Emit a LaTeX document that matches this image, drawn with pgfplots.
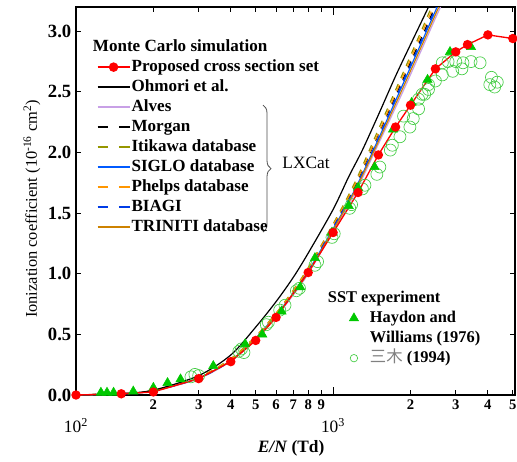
\documentclass[border=0pt]{standalone}
\usepackage{fontspec}
\setmainfont{Liberation Serif}
\newfontfamily\cjk{Noto Sans CJK JP}
\usepackage{pgfplots}
\pgfplotsset{compat=1.18}
\usepackage{pgfplotstable}
\usetikzlibrary{decorations.pathreplacing}

\definecolor{alves}{RGB}{200,160,230}
\definecolor{itikawa}{RGB}{150,150,0}
\definecolor{siglo}{RGB}{0,90,255}
\definecolor{phelps}{RGB}{255,150,0}
\definecolor{biagi}{RGB}{0,60,230}
\definecolor{triniti}{RGB}{205,130,0}
\definecolor{hwgreen}{RGB}{0,200,0}
\definecolor{mikigreen}{RGB}{70,205,70}

\pgfplotstableread{
E y
100 0
150 0.01
200 0.025
300 0.135
400 0.275
500 0.45
600 0.64
800 1.01
1000 1.34
1250 1.67
1500 1.98
1750 2.21
2000 2.39
2500 2.69
3000 2.83
3333 2.89
4000 2.97
5000 2.94
}\proposed

\pgfplotstableread{
E y
100 0
150 0.012
200 0.04
300 0.16
400 0.33
500 0.56
600 0.77
700 0.97
800 1.17
1000 1.53
1150 1.80
1300 2.02
1500 2.31
1750 2.63
2000 2.89
2350 3.20
2600 3.40
}\ohmori

\pgfplotstableread{
E y
100 0
150 0.01
200 0.033
300 0.135
400 0.28
500 0.46
600 0.645
700 0.825
800 1.00
1000 1.35
1220 1.67
1500 2.07
1830 2.46
2200 2.84
2540 3.14
2800 3.33
}\alves

\pgfplotstableread{
E y
100 0
150 0.011
200 0.036
300 0.143
400 0.29
500 0.475
600 0.665
700 0.85
800 1.03
1000 1.39
1220 1.73
1500 2.15
1830 2.56
2200 2.94
2540 3.24
2800 3.42
}\morgan

\pgfplotstableread{
E y
100 0
150 0.012
200 0.038
300 0.148
400 0.30
500 0.485
600 0.675
700 0.865
800 1.05
1000 1.41
1220 1.76
1500 2.19
1830 2.61
2200 3.00
2540 3.31
}\itikawa

\pgfplotstableread{
E y
100 0
150 0.01
200 0.035
300 0.14
400 0.285
500 0.47
600 0.66
700 0.84
800 1.02
1000 1.37
1220 1.70
1500 2.11
1830 2.52
2200 2.90
2540 3.20
2800 3.40
}\siglo

\pgfplotstableread{
E y
100 0
150 0.011
200 0.037
300 0.146
400 0.295
500 0.48
600 0.67
700 0.86
800 1.04
1000 1.40
1220 1.74
1500 2.16
1830 2.58
2200 2.97
2540 3.27
2800 3.45
}\phelps

\pgfplotstableread{
E y
100 0
150 0.01
200 0.034
300 0.138
400 0.282
500 0.465
600 0.655
700 0.835
800 1.02
1000 1.38
1220 1.71
1500 2.12
1830 2.54
2200 2.92
2540 3.22
2800 3.41
}\biagi

\pgfplotstableread{
E y
100 0
150 0.01
200 0.034
300 0.14
400 0.285
500 0.468
600 0.655
700 0.835
800 1.01
1000 1.36
1220 1.69
1500 2.09
1830 2.49
2200 2.87
2540 3.17
2800 3.36
}\triniti

\pgfplotstableread{
E y
125 0.02
132 0.02
140 0.02
167 0.03
200 0.06
227 0.10
255 0.13
342 0.24
455 0.42
530 0.50
630 0.69
745 0.89
850 1.13
990 1.34
1150 1.56
1250 1.71
1450 1.88
1710 2.19
2020 2.41
2330 2.60
2850 2.83
3440 2.87
}\hw

\pgfplotstableread{
E y
280 0.15
290 0.17
300 0.16
430 0.36
440 0.38
450 0.35
550 0.58
560 0.60
620 0.70
650 0.74
720 0.86
740 0.88
850 1.07
870 1.10
990 1.30
1010 1.33
1160 1.54
1180 1.57
1300 1.70
1330 1.73
1480 1.82
1520 1.88
1670 2.02
1700 2.06
1820 2.13
1880 2.30
1990 2.21
2050 2.28
2150 2.36
2150 2.44
2220 2.48
2270 2.48
2350 2.52
2350 2.56
2500 2.59
2660 2.64
2660 2.74
2800 2.75
2920 2.67
3000 2.75
3170 2.69
3200 2.74
3440 2.75
3730 2.74
4070 2.56
4130 2.62
4250 2.54
4350 2.58
}\miki

\begin{document}
\begin{tikzpicture}
\begin{axis}[
  at={(0,0)}, anchor=south west,
  scale only axis, width=329.25pt, height=291pt,
  xmode=log, xmin=100, xmax=5100, ymin=0, ymax=3.2,
  axis line style={line width=0.8pt},
  tick align=inside, major tick length=4pt,
  tick style={line width=0.7pt, black},
  xtick={200,300,400,500,600,700,800,900,2000,3000,4000,5000},
  xticklabels={2,3,4,5,6,7,8,9,2,3,4,5},
  minor xtick={},
  xticklabel style={font=\fontsize{11}{11}\selectfont\bfseries},
  extra x ticks={100,1000},
  extra x tick labels={10\textsuperscript{2},10\textsuperscript{3}},
  extra x tick style={major tick length=6pt, xticklabel style={font=\fontsize{13}{13}\selectfont\mdseries, yshift=-14pt}},
  ytick={0,0.5,1,1.5,2,2.5,3},
  yticklabel style={/pgf/number format/fixed, /pgf/number format/fixed zerofill, /pgf/number format/precision=1, /pgf/number format/assume math mode=true, font=\fontsize{14}{14}\selectfont\bfseries},
  xlabel={\textbf{\textit{E/N}} \textbf{(Td)}},
  ylabel={Ionization coefficient (10\textsuperscript{-16} cm\textsuperscript{2})},
  every axis x label/.style={at={(axis description cs:0.49,0)}, anchor=center, yshift=-40pt, font=\fontsize{13}{13}\selectfont},
  every axis y label/.style={at={(axis description cs:-0.1002,0.48)}, rotate=90, anchor=center, font=\fontsize{12.3}{12.3}\selectfont},
  legend image code/.code={\draw[mark repeat=2,mark phase=2,#1] plot coordinates {(0cm,0cm) (0.42cm,0cm) (0.84cm,0cm)};},
  legend cell align=left,
  legend style={at={(axis description cs:0.047,0.923)}, anchor=north west, draw=none, fill=none, inner sep=0pt,
    font=\fontsize{12.8}{15}\selectfont\bfseries,
    nodes={inner sep=1pt, text height=10pt, text depth=3pt},
    /tikz/every even column/.append style={column sep=3pt}},
]
\addplot[forget plot, only marks, mark=o, mark size=4.5pt, mikigreen, mark options={line width=0.5pt}] table {\miki};
\addplot[forget plot, only marks, mark=triangle*, mark size=4pt, hwgreen] table {\hw};
\addplot[forget plot, alves, line width=0.9pt, smooth] table {\alves};
\addplot[forget plot, black, line width=0.9pt, smooth, dash pattern=on 5pt off 5pt] table {\morgan};
\addplot[forget plot, itikawa, line width=0.9pt, smooth, dash pattern=on 5pt off 5pt] table {\itikawa};
\addplot[forget plot, siglo, line width=0.9pt, smooth] table {\siglo};
\addplot[forget plot, phelps, line width=0.9pt, smooth, dash pattern=on 5pt off 5pt] table {\phelps};
\addplot[forget plot, biagi, line width=0.9pt, smooth, dash pattern=on 5pt off 5pt] table {\biagi};
\addplot[forget plot, triniti, line width=0.9pt, smooth] table {\triniti};
\addplot[forget plot, black, line width=0.9pt, smooth] table {\ohmori};
\addplot[forget plot, red, line width=1pt, mark=*, mark size=3pt, mark options={fill=red}] table {\proposed};

\addlegendimage{empty legend}
\addlegendentry{\hspace{-29pt}Monte Carlo simulation}
\addlegendimage{draw=red, line width=1.1pt, mark=*, mark size=3pt, mark options={fill=red, draw=red}}
\addlegendentry{Proposed cross section set}
\addlegendimage{draw=black, line width=1.1pt}
\addlegendentry{Ohmori et al.}
\addlegendimage{draw=alves, line width=1.1pt}
\addlegendentry{Alves}
\addlegendimage{draw=black, line width=1.1pt, dash pattern=on 8pt off 8pt}
\addlegendentry{Morgan}
\addlegendimage{draw=itikawa, line width=1.1pt, dash pattern=on 8pt off 8pt}
\addlegendentry{Itikawa database}
\addlegendimage{draw=siglo, line width=1.1pt}
\addlegendentry{SIGLO database}
\addlegendimage{draw=phelps, line width=1.1pt, dash pattern=on 8pt off 8pt}
\addlegendentry{Phelps database}
\addlegendimage{draw=biagi, line width=1.1pt, dash pattern=on 8pt off 8pt}
\addlegendentry{BIAGI}
\addlegendimage{draw=triniti, line width=1.1pt}
\addlegendentry{TRINITI database}

\draw[decorate, decoration={brace, amplitude=6pt}, line width=0.6pt, black!70]
  (rel axis cs:0.426,0.747) -- (rel axis cs:0.426,0.42);
\node[font=\fontsize{13}{13}\selectfont, anchor=center] at (rel axis cs:0.524,0.598) {LXCat};
\end{axis}

\begin{axis}[
  at={(0,0)}, anchor=south west,
  scale only axis, width=329.25pt, height=291pt,
  hide axis, xmin=0, xmax=1, ymin=0, ymax=1,
  legend image code/.code={\draw[#1] plot coordinates {(0cm,0cm)};},
  legend cell align=left,
  legend style={at={(axis description cs:0.622,0.276)}, anchor=north west, draw=none, fill=none, inner sep=0pt,
    font=\fontsize{12.3}{14.5}\selectfont\bfseries,
    nodes={inner sep=1pt, text height=10pt, text depth=3pt},
    /tikz/every odd column/.append style={column sep=7.5pt}},
]
\addlegendimage{empty legend}
\addlegendentry{\hspace{-31.5pt}SST experiment}
\addlegendimage{mark=triangle*, mark size=4pt, hwgreen}
\addlegendentry{Haydon and}
\addlegendimage{empty legend}
\addlegendentry{Williams (1976)}
\addlegendimage{mark=o, mark size=2.8pt, mikigreen, mark options={line width=0.5pt}}
\addlegendentry{{\cjk\mdseries\color{gray}三木} (1994)}
\end{axis}
\pgfresetboundingbox
\useasboundingbox (-57pt,-49.5pt) rectangle (330.75pt,296.25pt);
\end{tikzpicture}
\end{document}
